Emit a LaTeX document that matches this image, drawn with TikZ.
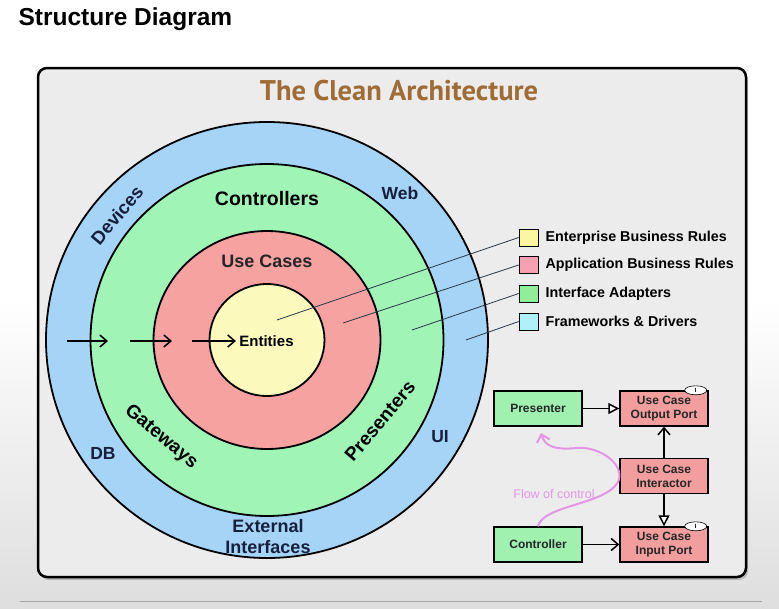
\documentclass[tikz,border=0pt]{standalone}
\usepackage{fontspec}
\setmainfont{Liberation Sans}
\newfontfamily\archfont{PT Sans}
\usetikzlibrary{arrows.meta,shapes.geometric,shadows}
\definecolor{ringblue}{RGB}{166,212,247}
\definecolor{ringgreen}{RGB}{160,244,182}
\definecolor{ringred}{RGB}{246,162,160}
\definecolor{ringyellow}{RGB}{251,249,188}
\definecolor{keyyellow}{RGB}{250,247,160}
\definecolor{keypink}{RGB}{246,160,178}
\definecolor{keygreen}{RGB}{144,238,150}
\definecolor{keycyan}{RGB}{176,240,248}
\definecolor{boxgreen}{RGB}{160,240,176}
\definecolor{boxred}{RGB}{242,158,158}
\definecolor{archbrown}{RGB}{158,108,52}
\definecolor{flowpink}{RGB}{226,150,228}
\definecolor{framegray}{RGB}{236,236,236}
\definecolor{leadcol}{RGB}{40,56,72}
\definecolor{navytext}{RGB}{22,32,60}
\tikzset{every picture/.style={x=1pt,y=-1pt}}
\tikzset{ring/.style={ellipse,draw,line width=1.8pt,inner sep=0pt}}
\tikzset{ringlabel/.style={font=\bfseries\fontsize{#1}{21}\selectfont},ringlabel/.default=17.5}
\tikzset{keybox/.style={draw,line width=0.6pt,minimum width=19pt,minimum height=17pt,inner sep=0pt}}
\tikzset{keytext/.style={anchor=west,font=\bfseries\fontsize{14.3}{16}\selectfont}}
\tikzset{lead/.style={leadcol,line width=0.8pt}}
\tikzset{part/.style={draw,line width=1.4pt,minimum width=88pt,minimum height=35pt,align=center,text=black!85,font=\bfseries\fontsize{12}{14}\selectfont}}
\tikzset{dep/.style={-{Straight Barb[length=7pt,width=12pt]},line width=1.5pt}}
\tikzset{impl/.style={-{Triangle[length=11pt,width=11pt,fill=white]},line width=1.5pt}}
\tikzset{iface/.style={ellipse,draw,fill=white,line width=0.6pt,inner sep=0pt,minimum width=22pt,minimum height=9pt,font=\bfseries\fontsize{6}{6}\selectfont}}
\tikzset{flow/.style={flowpink,line width=2pt,-{Straight Barb[length=7pt,width=13pt]}}}

\begin{document}
\begin{tikzpicture}
\useasboundingbox (0,0) rectangle (779,608);
\shade [top color=white,bottom color=black!13] (0,300) rectangle (779,608);
\draw [black!35,line width=0.8pt] (20,601) -- (762,601);
\node [anchor=west,font=\bfseries\fontsize{24.5}{28}\selectfont] (title) at (15,19) {Structure Diagram};
\draw [fill=framegray,line width=2.5pt,rounded corners=9pt,drop shadow={shadow xshift=2pt,shadow yshift=-3pt,opacity=0.4}] (38,68) rectangle (746,577);
\node [archbrown,font=\archfont\bfseries\fontsize{28.5}{30}\selectfont] (archtitle) at (399,91) {The Clean Architecture};

\coordinate (c) at (267,340);
\node [ring,fill=ringblue,minimum width=442pt,minimum height=436pt] (fw) at (c) {};
\node [ring,fill=ringgreen,minimum width=353pt,minimum height=352pt] (ia) at (c) {};
\node [ring,fill=ringred,minimum width=227pt,minimum height=218pt] (abr) at (c) {};
\node [ring,fill=ringyellow,minimum width=115pt,minimum height=112pt] (ebr) at (c) {};

\node [ringlabel=19.5] (ctrl) at (267,199) {Controllers};
\node [ringlabel=18,text=black!85] (uc) at (267,261) {Use Cases};
\node [ringlabel=15] (ent) at (266.5,341) {Entities};
\node [ringlabel,navytext] (web) at (400,193) {Web};
\node [ringlabel=18.5,navytext,rotate=50] (dev) at (117,215) {Devices};
\node [ringlabel,navytext] (db) at (103,453) {DB};
\node [ringlabel,navytext] (ui) at (440,437) {UI};
\node [ringlabel=19,rotate=-40] (gw) at (161,437) {Gateways};
\node [ringlabel=19,rotate=50] (pres) at (380,421) {Presenters};
\node [ringlabel=18,navytext,align=center] (ext) at (268,537) {External\\Interfaces};

\coordinate (a1s) at (67,341);
\coordinate (a1e) at (108,341);
\coordinate (a2s) at (130,341);
\coordinate (a2e) at (172,341);
\coordinate (a3s) at (192,341);
\draw [dep] (a1s) -- (a1e);
\draw [dep] (a2s) -- (a2e);
\draw [dep] (a3s) -- (ent.west);

\node [keybox,fill=keyyellow] (kent) at (528.5,237.5) {};
\node [keybox,fill=keypink] (kapp) at (528.5,265) {};
\node [keybox,fill=keygreen] (kifa) at (528.5,293.5) {};
\node [keybox,fill=keycyan] (kfw) at (528.5,321.5) {};
\node [keytext] (tent) at (542,237.5) {Enterprise Business Rules};
\node [keytext] (tapp) at (542,265) {Application Business Rules};
\node [keytext] (tifa) at (542,293.5) {Interface Adapters};
\node [keytext] (tfw) at (542,321.5) {Frameworks \& Drivers};
\coordinate (pent) at (277,320);
\coordinate (papp) at (343,323);
\coordinate (pifa) at (412,330);
\coordinate (pfw) at (466,340);
\draw [lead] (pent) -- (kent.west);
\draw [lead] (papp) -- (kapp.west);
\draw [lead] (pifa) -- (kifa.west);
\draw [lead] (pfw) -- (kfw.west);

\node [part,fill=boxgreen] (presenter) at (538,408.5) {Presenter};
\node [part,fill=boxred] (outport) at (664,408.5) {Use Case\\Output Port};
\node [part,fill=boxred] (interactor) at (664,476) {Use Case\\Interactor};
\node [part,fill=boxgreen] (controller) at (538,544.5) {Controller};
\node [part,fill=boxred] (inport) at (664,544.5) {Use Case\\Input Port};
\node [iface] (outi) at ([xshift=-13pt]outport.north east) {I};
\node [iface] (ini) at ([xshift=-13pt]inport.north east) {I};
\draw [impl] (presenter) -- (outport);
\draw [dep] (interactor) -- (outport);
\draw [impl] (interactor) -- (inport);
\draw [dep] (controller) -- (inport);

\coordinate (flowend) at (541,433);
\draw [flow] (controller.north) .. controls (543,505) and (605,505) .. (618,482) .. controls (626,465) and (600,446) .. (577,448) .. controls (556,450) and (545,447) .. (flowend);
\node [flowpink,font=\fontsize{12.5}{14}\selectfont] (flowtxt) at (554,494) {Flow of control};
\end{tikzpicture}
\end{document}
